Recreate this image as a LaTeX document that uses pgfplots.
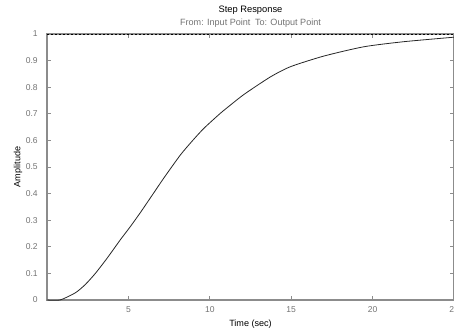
\documentclass[border=0pt]{standalone}
\usepackage{fontspec}
\setmainfont{Liberation Sans}
\usepackage{pgfplots}
\pgfplotsset{compat=1.18}
\definecolor{axgray}{gray}{0.55}
\definecolor{txtgray}{gray}{0.45}
\begin{document}
\begin{tikzpicture}
\begin{axis}[
  scale only axis,
  width=305.25pt, height=199.5pt,
  xmin=0, xmax=25, ymin=0, ymax=1,
  xtick={5,10,15,20,25},
  xticklabels={5,10,15,20,25},
  ytick={0,0.1,0.2,0.3,0.4,0.5,0.6,0.7,0.8,0.9,1},
  yticklabels={0,0.1,0.2,0.3,0.4,0.5,0.6,0.7,0.8,0.9,1},
  tick align=inside,
  major tick length=3pt,
  tick style={axgray, line width=0.6pt},
  axis line style={axgray, line width=0.9pt},
  xticklabel style={font=\fontsize{6.4}{7}\selectfont, text=txtgray, anchor=center, inner sep=0pt, yshift=-7.5pt},
  yticklabel style={font=\fontsize{6.4}{7}\selectfont, text=txtgray, anchor=east, inner sep=0pt, xshift=-6.75pt},
  xlabel={Time (sec)},
  xlabel style={font=\fontsize{6.8}{8}\selectfont, at={(axis description cs:0.5,-0.0902)}, anchor=center},
  ylabel={Amplitude},
  ylabel style={font=\fontsize{6.8}{8}\selectfont, at={(axis description cs:-0.0713,0.5)}, anchor=center},
  clip=false,
]
\addplot[black, line width=0.7pt, dash pattern=on 1.5pt off 1.5pt] coordinates {(0,1) (25,1)};
\addplot[black!85, line width=0.6pt, smooth, tension=0.4] coordinates {
(0,0) (0.8,0) (1.74,0.027) (2.35,0.058) (2.97,0.10) (3.69,0.157) (4.5,0.226)
(5.12,0.276) (5.75,0.330) (6.55,0.402) (7.17,0.458) (8.19,0.545) (8.91,0.597)
(9.63,0.645) (10.65,0.702) (11.27,0.733) (11.78,0.758) (12.29,0.781)
(13.73,0.839) (14.95,0.877) (17.0,0.917) (19.46,0.952) (21.9,0.971) (25,0.988)
};
\node[font=\fontsize{7}{8}\selectfont, anchor=center] at (axis description cs:0.5,1.0902) {Step Response};
\node[font=\fontsize{6.8}{8}\selectfont, text=txtgray, anchor=center] at (axis description cs:0.5,1.0414) {From: Input Point\enspace To: Output Point};
\end{axis}
\pgfresetboundingbox
\path[use as bounding box] (-35.25pt,-22.5pt) rectangle (305.25pt,225pt);
\end{tikzpicture}
\end{document}
